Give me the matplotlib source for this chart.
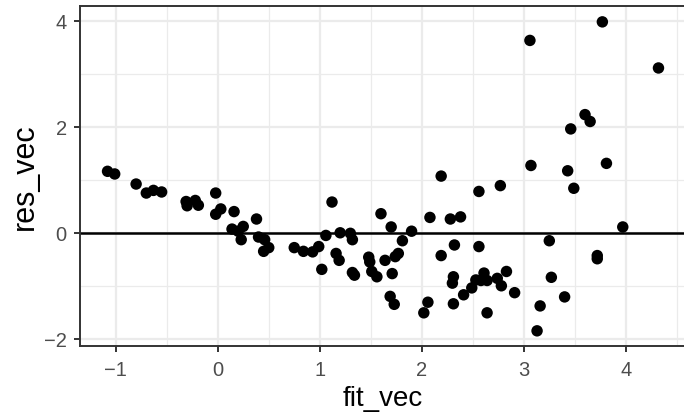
import matplotlib
matplotlib.use("Agg")
import matplotlib.pyplot as plt
from matplotlib.ticker import MultipleLocator

fit_vec = [
    -1.08, -1.01, -0.80, -0.70, -0.63, -0.55, -0.31, -0.30, -0.22, -0.19,
    -0.02, 0.03, -0.02, 0.16, 0.38, 0.14, 0.20, 0.25, 0.23, 0.40,
    0.46, 0.50, 0.45, 0.75, 0.84, 0.93, 0.99, 1.06, 1.12, 1.02,
    1.16, 1.19, 1.20, 1.30, 1.32, 1.32, 1.34, 1.48, 1.49, 1.51,
    1.56, 1.60, 1.64, 1.70, 1.71, 1.74, 1.77, 1.69, 1.73, 1.81,
    1.90, 2.08, 2.02, 2.06, 2.19, 2.19, 2.28, 2.38, 2.32, 2.56,
    2.56, 2.77, 2.31, 2.30, 2.31, 2.41, 2.49, 2.53, 2.61, 2.58,
    2.64, 2.74, 2.78, 2.83, 2.91, 2.64, 3.07, 3.06, 3.13, 3.16,
    3.25, 3.27, 3.40, 3.43, 3.46, 3.49, 3.60, 3.65, 3.72, 3.72,
    3.77, 3.81, 3.97, 4.32,
]
res_vec = [
    1.17, 1.12, 0.93, 0.76, 0.81, 0.78, 0.60, 0.52, 0.62, 0.53,
    0.76, 0.46, 0.36, 0.41, 0.27, 0.08, 0.04, 0.13, -0.12, -0.07,
    -0.12, -0.27, -0.34, -0.27, -0.34, -0.35, -0.25, -0.04, 0.59, -0.68,
    -0.38, -0.51, 0.01, 0.00, -0.12, -0.74, -0.79, -0.45, -0.54, -0.72,
    -0.82, 0.37, -0.51, 0.12, -0.76, -0.44, -0.38, -1.19, -1.34, -0.14,
    0.04, 0.30, -1.50, -1.30, 1.08, -0.42, 0.27, 0.31, -0.22, -0.25,
    0.79, 0.90, -0.82, -0.94, -1.33, -1.16, -1.03, -0.88, -0.75, -0.89,
    -0.89, -0.85, -0.99, -0.72, -1.12, -1.50, 1.28, 3.64, -1.84, -1.37,
    -0.14, -0.83, -1.20, 1.18, 1.97, 0.85, 2.24, 2.11, -0.42, -0.48,
    3.99, 1.32, 0.12, 3.12,
]
x_ticks = [-1, 0, 1, 2, 3, 4]
y_ticks = [-2, 0, 2, 4]

plt.rcParams['font.family'] = ['Liberation Sans', 'DejaVu Sans']

W, H = 684, 415
fig = plt.figure(figsize=(W / 100, H / 100), dpi=100)
left, right, top, bottom = 80, 685, 6.5, 346.2
ax = fig.add_axes([left / W, (H - bottom) / H, (right - left) / W, (bottom - top) / H])
ax.set_facecolor('white')

ax.set_xlim(-1.35, 4.58)
ax.set_ylim(-2.13, 4.28)
ax.set_xticks(x_ticks)
ax.set_yticks(y_ticks)
ax.xaxis.set_minor_locator(MultipleLocator(0.5))
ax.yaxis.set_minor_locator(MultipleLocator(1))
ax.grid(which='major', color='#EBEBEB', linewidth=1.6, zorder=0)
ax.grid(which='minor', color='#EBEBEB', linewidth=0.9, zorder=0)
ax.set_axisbelow(True)

ax.axhline(0, color='black', linewidth=1.8, zorder=2)
ax.scatter(fit_vec, res_vec, s=68, color='black', edgecolors='none', zorder=3)

for sp in ax.spines.values():
    sp.set_color('#333333')
    sp.set_linewidth(1.4)

ax.tick_params(which='major', direction='out', length=4.5, width=1.4, color='#333333',
               labelcolor='#4D4D4D', labelsize=14.5)
ax.tick_params(axis='x', pad=6.5)
ax.tick_params(axis='y', pad=5)
ax.tick_params(which='minor', length=0)

ax.set_xlabel('fit_vec', fontsize=20, color='black', labelpad=4)
ax.set_ylabel('res_vec', fontsize=22, color='black', labelpad=3)

fig.savefig('out.png', dpi=100, facecolor='white')
